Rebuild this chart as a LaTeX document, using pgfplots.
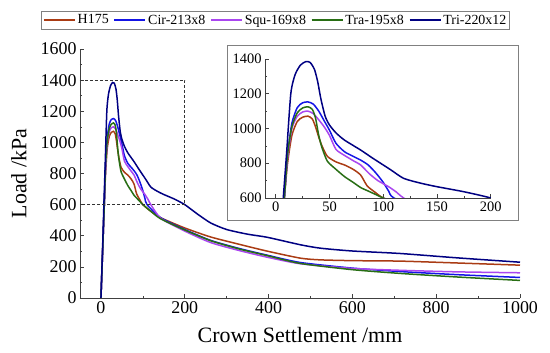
\documentclass[border=0pt]{standalone}
\usepackage{pgfplots}
\pgfplotsset{compat=1.18}
\usepackage{pgfplotstable}
\usepackage{fontspec}
\setmainfont{Liberation Serif}

\definecolor{cH}{RGB}{170,60,20}
\definecolor{cCir}{RGB}{20,20,230}
\definecolor{cSqu}{RGB}{170,70,240}
\definecolor{cTra}{RGB}{40,110,20}
\definecolor{cTri}{RGB}{0,0,130}

\pgfplotstableread{
x y
0 0
4 300
8 600
11 800
15 960
20 1040
25 1065
30 1071
34 1055
37 1010
40 950
43 900
48 840
56 808
64 790
72 765
79 732
85 670
92 635
100 600
120 555
143 515
200 450
262 392
330 345
397 301
476 256
524 245
600 240
714 237
850 225
1000 211
}\tH

\pgfplotstableread{
x y
0 0
4 300
8 600
11 850
15 1030
20 1120
25 1148
30 1153
35 1140
40 1100
45 1045
50 990
56 915
64 866
72 840
79 818
86 790
93 745
100 690
105 640
110 600
143 515
200 440
262 370
330 318
397 275
476 228
600 192
714 170
850 150
1000 132
}\tCir

\pgfplotstableread{
x y
0 0
4 300
8 600
11 830
15 1000
20 1070
25 1095
30 1100
35 1085
40 1050
45 1010
50 960
56 880
64 845
72 815
79 790
87 740
95 700
105 665
112 635
119 600
143 512
200 430
262 356
330 305
397 262
476 220
600 190
714 178
850 168
1000 162
}\tSqu

\pgfplotstableread{
x y
0 0
4 300
8 600
11 850
15 1010
20 1090
25 1118
30 1125
34 1110
37 1060
40 960
43 890
48 812
56 765
64 723
72 690
79 660
86 640
93 620
100 600
120 555
143 508
200 437
262 368
330 315
397 272
476 222
600 182
714 158
850 135
1000 113
}\tTra

\pgfplotstableread{
x y
0 0
4 330
7 600
10 850
14 1200
18 1310
23 1365
28 1385
32 1380
36 1340
39 1270
42 1170
46 1070
50 1020
56 975
64 933
79 876
90 830
107 762
119 713
135 685
150 665
175 636
200 600
230 540
262 482
300 440
350 410
397 390
476 342
524 320
600 302
714 286
850 258
1000 230
}\tTri

\pgfplotsset{
  common/.style={
    scale only axis,
    axis x line=bottom, axis y line=left,
    axis line style={-, black!75, line width=0.8bp},
    tick align=inside,
    minor tick num=1,
    major tick length=4bp, minor tick length=2bp,
    tick style={black!75, line width=0.6bp},
    /pgf/number format/assume math mode=true,
    /pgf/number format/1000 sep={},
    xticklabel={\pgfmathprintnumber[assume math mode=true,1000 sep={}]{\tick}},
    yticklabel={\pgfmathprintnumber[assume math mode=true,1000 sep={}]{\tick}},
    every axis plot/.append style={line width=1.5bp, smooth, tension=0.4, no marks},
  }
}

\begin{document}
\begin{tikzpicture}
\begin{axis}[common,
  name=main,
  width=440bp, height=249bp,
  xmin=-50, xmax=1000, ymin=0, ymax=1600,
  xtick={0,200,...,1000}, ytick={0,200,...,1600},
  ticklabel style={font=\fontsize{18}{18}\selectfont},
  xlabel={Crown Settlement /mm},
  ylabel={Load /kPa},
  label style={font=\fontsize{22}{22}\selectfont},
  xlabel style={at={(axis description cs:0.5,-0.177)}, anchor=base},
  ylabel style={at={(axis description cs:-0.139,0.5)}, anchor=center, rotate=0},
  legend columns=5,
  legend style={at={(axis description cs:0.445,1.116)}, anchor=center,
    draw=gray, line width=0.8bp, font=\fontsize{14}{14}\selectfont,
    inner sep=1.5bp,
    /tikz/every even column/.append style={column sep=3bp}},
  legend image code/.code={\draw[#1] (0bp,0bp) -- (31bp,0bp);},
]
\addplot[cH] table {\tH};
\addlegendentry{H175}
\addplot[cCir] table {\tCir};
\addlegendentry{Cir-213x8}
\addplot[cSqu] table {\tSqu};
\addlegendentry{Squ-169x8}
\addplot[cTra] table {\tTra};
\addlegendentry{Tra-195x8}
\addplot[cTri] table {\tTri};
\addlegendentry{Tri-220x12}
\draw[black!80, densely dashed, line width=0.7bp] (axis cs:-50,1400) -- (axis cs:200,1400) -- (axis cs:200,600) -- (axis cs:-50,600);
\end{axis}

\draw[gray, line width=0.8bp, fill=white] (147bp,78bp) rectangle (438bp,253bp);

\begin{axis}[common,
  at={(185bp,100bp)}, anchor=south west,
  width=225.75bp, height=139bp,
  xmin=-10, xmax=200, ymin=600, ymax=1400,
  xtick={0,50,...,200}, ytick={600,800,...,1400},
  ticklabel style={font=\fontsize{14.5}{14.5}\selectfont},
]
\addplot[cH] table {\tH};
\addplot[cCir] table {\tCir};
\addplot[cSqu] table {\tSqu};
\addplot[cTra] table {\tTra};
\addplot[cTri] table {\tTri};
\end{axis}

\pgfresetboundingbox
\useasboundingbox (-80bp,-55bp) rectangle (470bp,298bp);
\end{tikzpicture}
\end{document}
